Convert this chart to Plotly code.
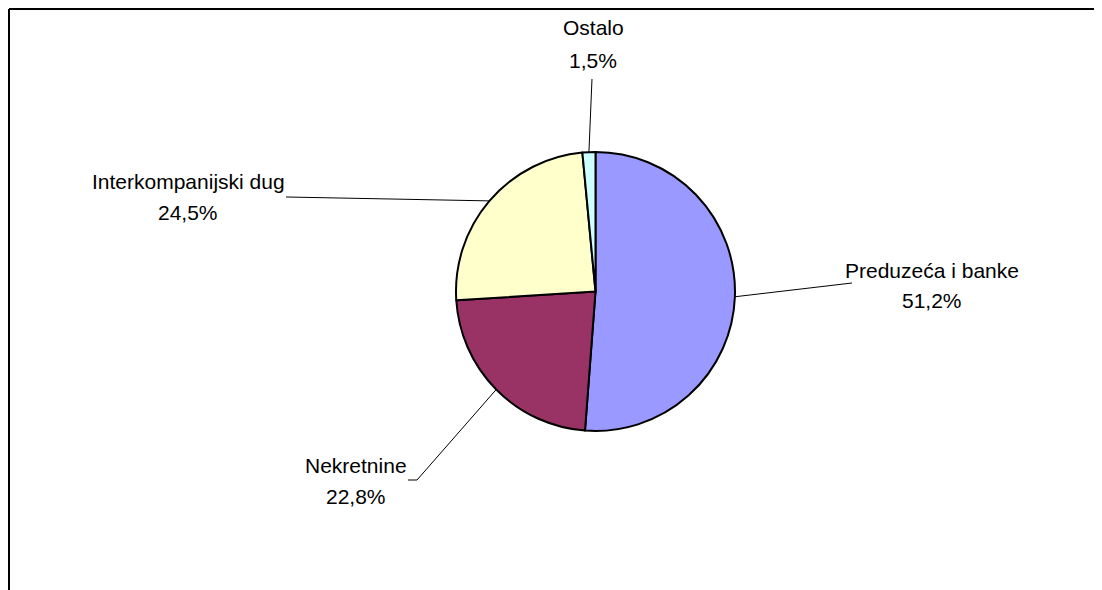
import math
import plotly.graph_objects as go

# ---- data ----
labels = ["Preduzeća i banke", "Nekretnine", "Interkompanijski dug", "Ostalo"]
values = [51.2, 22.8, 24.5, 1.5]
colors = ["#9999FF", "#993366", "#FFFFCC", "#CCFFFF"]

# ---- layout constants (page pixels) ----
OFF = 8                      # default page body margin
W, H = 1102 - OFF, 590 - OFF  # figure size so it fills the window
CX, CY, R = 595.5, 291.5, 139.5
FONT = "Liberation Sans, Arial, sans-serif"
FS = 21

# text centre x, name line y, percent line y, leader path points (from pie outward)
label_layout = [
    dict(x=932, y1=270, y2=300, path=[(852, 283)]),
    dict(x=356, y1=465, y2=496, path=[(417, 480), (408, 480)]),
    dict(x=188, y1=181, y2=212, path=[(286, 197)]),
    dict(x=593, y1=28, y2=60, path=[(592, 79)]),
]


def px(x):
    return (x - OFF) / W


def py(y):
    return 1 - (y - OFF) / H


fig = go.Figure(
    go.Pie(
        labels=labels,
        values=values,
        sort=False,
        direction="clockwise",
        rotation=0,
        marker=dict(colors=colors, line=dict(color="#000000", width=2)),
        textinfo="none",
        hoverinfo="label+percent",
        showlegend=False,
        domain=dict(x=[px(CX - R), px(CX + R)], y=[py(CY + R), py(CY - R)]),
    )
)

annotations = []
shapes = []
total = sum(values)
cum = 0.0
for lab, val, lay in zip(labels, values, label_layout):
    mid = (cum + val / 2) / total * 2 * math.pi
    cum += val
    sx = CX + R * math.sin(mid)
    sy = CY - R * math.cos(mid)
    pts = [(sx, sy)] + lay["path"]
    d = "M " + " L ".join(f"{px(a):.5f},{py(b):.5f}" for a, b in pts)
    shapes.append(dict(type="path", path=d, xref="paper", yref="paper",
                       line=dict(color="#000000", width=1)))
    pct = f"{val / total * 100:.1f}".replace(".", ",") + "%"
    for txt, yy in ((lab, lay["y1"]), (pct, lay["y2"])):
        annotations.append(dict(text=txt, x=px(lay["x"]), y=py(yy), xref="paper", yref="paper",
                                xanchor="center", yanchor="middle", showarrow=False,
                                font=dict(family=FONT, size=FS, color="#000000")))

# chart frame: only the left and top edges fall inside the window
frame = dict(color="#000000", width=2)
shapes.append(dict(type="line", xref="paper", yref="paper",
                   x0=px(9), x1=1.0, y0=py(9), y1=py(9), line=frame, layer="below"))
shapes.append(dict(type="line", xref="paper", yref="paper",
                   x0=px(9), x1=px(9), y0=py(9), y1=0.0, line=frame, layer="below"))

fig.update_layout(
    width=W, height=H, autosize=False,
    margin=dict(l=0, r=0, t=0, b=0),
    paper_bgcolor="#FFFFFF", plot_bgcolor="#FFFFFF",
    annotations=annotations, shapes=shapes,
)

fig.write_html("out.html")
